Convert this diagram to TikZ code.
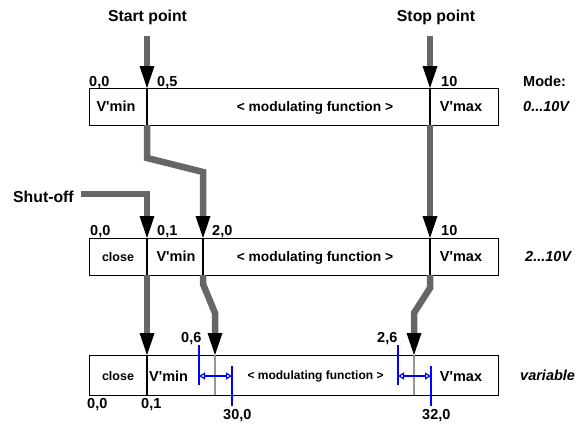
\documentclass[tikz,border=0pt]{standalone}
\usepackage{fontspec}
\setmainfont{Liberation Sans}
\usetikzlibrary{arrows.meta}
\definecolor{pipegray}{RGB}{102,102,102}
\definecolor{divgray}{RGB}{150,150,150}
\definecolor{markblue}{RGB}{0,0,255}
\newcommand{\apos}{\textquotesingle}
\tikzset{
  boxframe/.style={draw=black, line width=1.3pt, inner sep=0pt, anchor=north west, minimum height=37pt},
  divider/.style={draw=black, line width=1.3pt},
  graydiv/.style={draw=divgray, line width=1.4pt},
  pipeline/.style={draw=pipegray, line width=6.5pt, line join=miter,
    -{Triangle[length=22pt,width=15pt,line width=0pt,color=black,fill=black]}},
  lbl/.style={font=\fontsize{14.5}{17}\selectfont\bfseries, inner sep=0pt, anchor=base west},
  ttl/.style={font=\fontsize{15.8}{19}\selectfont\bfseries, inner sep=0pt, anchor=base},
  celltxt/.style={font=\fontsize{14.5}{17}\selectfont\bfseries, inner sep=0pt, anchor=base},
  modtxt/.style={font=\fontsize{13.8}{16}\selectfont\bfseries, inner sep=0pt, anchor=base},
  smalltxt/.style={font=\fontsize{12.5}{15}\selectfont\bfseries, inner sep=0pt, anchor=base},
  tinytxt/.style={font=\fontsize{12}{14}\selectfont\bfseries, inner sep=0pt, anchor=base},
  modetxt/.style={font=\fontsize{14.5}{17}\selectfont\bfseries\itshape, inner sep=0pt, anchor=base west},
  blueline/.style={draw=markblue, line width=1.5pt},
  bluearrow/.style={draw=markblue, line width=1.4pt,
    {Triangle[open,length=6pt,width=7pt,line width=1.2pt]}-{Triangle[open,length=6pt,width=7pt,line width=1.2pt]}}
}
\begin{document}
\begin{tikzpicture}[x=1pt,y=-1pt]
\useasboundingbox (0,0) rectangle (585,423);

% titles
\node[ttl] (tstart) at (147.5,21.5) {Start point};
\node[ttl] (tstop) at (436,21.5) {Stop point};
\node[ttl, anchor=base west] (tshut) at (13,202) {Shut-off};
\node[lbl] (mode) at (523,86) {Mode:};
\node[modetxt] (m1) at (523,111.5) {0...10V};
\node[modetxt] (m2) at (525,261.5) {2...10V};
\node[modetxt] (m3) at (520,380) {variable};

% boxes
\node[boxframe, minimum width=409pt] (box1) at (89,88) {};
\node[boxframe, minimum width=409pt] (box2) at (89,238) {};
\node[boxframe, minimum width=409pt, minimum height=40pt] (box3) at (89,355) {};

% key points
\coordinate (b1a) at (147,88);  \coordinate (b1ab) at (147,125);
\coordinate (b1b) at (430,88);  \coordinate (b1bb) at (430,125);
\coordinate (b2a) at (147,238); \coordinate (b2ab) at (147,275);
\coordinate (b2b) at (203,238); \coordinate (b2bb) at (203,275);
\coordinate (b2c) at (430,238); \coordinate (b2cb) at (430,275);
\coordinate (b3a) at (147,355); \coordinate (b3ab) at (147,395);
\coordinate (b3b) at (215,355); \coordinate (b3bb) at (215,395);
\coordinate (b3c) at (414,355); \coordinate (b3cb) at (414,395);

% dividers
\draw[divider] (b1a) -- (b1ab);
\draw[divider] (b1b) -- (b1bb);
\draw[divider] (b2a) -- (b2ab);
\draw[divider] (b2b) -- (b2bb);
\draw[divider] (b2c) -- (b2cb);
\draw[divider] (b3a) -- (b3ab);
\draw[graydiv] (b3b) -- (b3bb);
\draw[graydiv] (b3c) -- (b3cb);

% cell texts box1
\node[celltxt] (v1min) at (116,111.5) {V\apos min};
\node[modtxt] (v1mod) at (315,111) {< modulating function >};
\node[celltxt] (v1max) at (461,111.5) {V\apos max};
% box2
\node[smalltxt] (c2) at (118,261) {close};
\node[celltxt] (v2min) at (176,261.5) {V\apos min};
\node[modtxt] (v2mod) at (315,261) {< modulating function >};
\node[celltxt] (v2max) at (461,261.5) {V\apos max};
% box3
\node[smalltxt] (c3) at (118,380) {close};
\node[celltxt, anchor=base west] (v3min) at (149,381) {V\apos min};
\node[tinytxt] (v3mod) at (315.5,379) {< modulating function >};
\node[celltxt] (v3max) at (461,381) {V\apos max};

% number labels
\node[lbl] (l10) at (89,86) {0,0};
\node[lbl] (l11) at (157,86) {0,5};
\node[lbl] (l12) at (441,86) {10};
\node[lbl] (l20) at (90,235.5) {0,0};
\node[lbl] (l21) at (157,235.5) {0,1};
\node[lbl] (l22) at (212,235.5) {2,0};
\node[lbl] (l23) at (441,235.5) {10};
\node[lbl] (l30) at (87,408) {0,0};
\node[lbl] (l31) at (141,408) {0,1};
\node[lbl] (l32) at (181,342) {0,6};
\node[lbl] (l33) at (377,342) {2,6};
\node[lbl] (l34) at (223,419.5) {30,0};
\node[lbl] (l35) at (422,419.5) {32,0};

% pipes
\coordinate (sstart) at (147,36);
\coordinate (sstop) at (430,36);
\coordinate (sshut) at (81,194);
\draw[pipeline] (sstart) -- (b1a);
\draw[pipeline] (sstop) -- (b1b);
\draw[pipeline] (b1ab) -- (147,158) -- (203,172) -- (b2b);
\draw[pipeline] (b1bb) -- (b2c);
\draw[pipeline] (sshut) -- (147,194) -- (b2a);
\draw[pipeline] (b2ab) -- (b3a);
\draw[pipeline] (b2bb) -- (203,284) -- (215,313) -- (b3b);
\draw[pipeline] (b2cb) -- (430,288) -- (414,313) -- (b3c);

% blue markers
\coordinate (q1t) at (199,345); \coordinate (q1b) at (199,385);
\coordinate (q2t) at (232,366); \coordinate (q2b) at (232,406);
\coordinate (q3t) at (398,345); \coordinate (q3b) at (398,385);
\coordinate (q4t) at (431,366); \coordinate (q4b) at (431,406);
\draw[blueline] (q1t) -- (q1b);
\draw[blueline] (q2t) -- (q2b);
\draw[blueline] (q3t) -- (q3b);
\draw[blueline] (q4t) -- (q4b);
\coordinate (r1) at (199,376); \coordinate (r2) at (232,376);
\coordinate (r3) at (398,376); \coordinate (r4) at (431,376);
\draw[bluearrow] (r1) -- (r2);
\draw[bluearrow] (r3) -- (r4);
\end{tikzpicture}
\end{document}
